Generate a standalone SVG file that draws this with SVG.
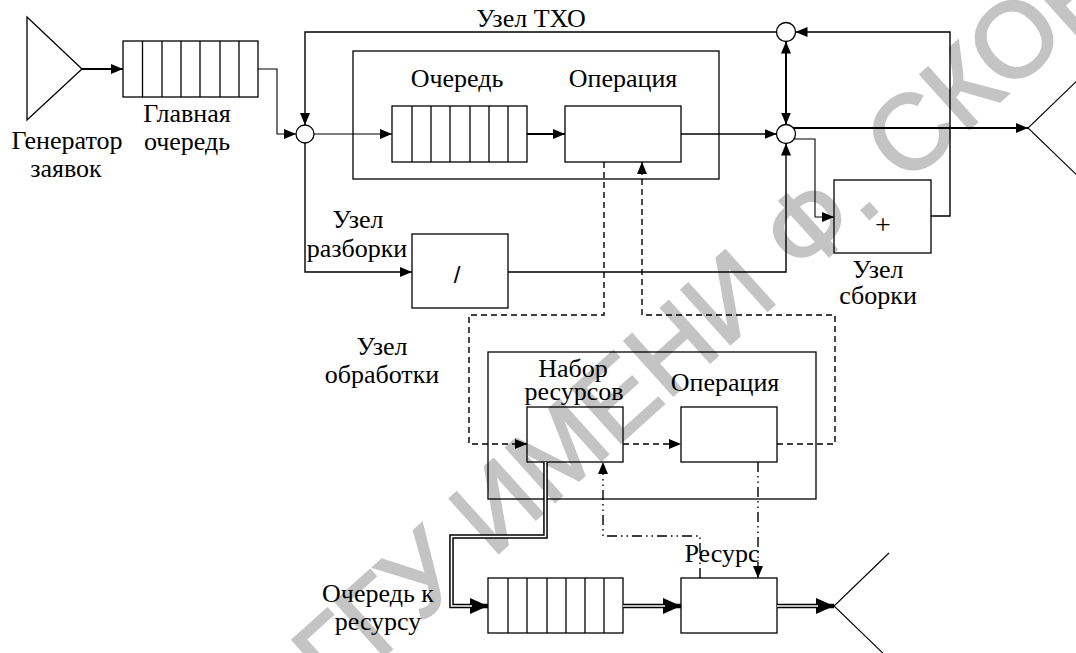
<svg xmlns="http://www.w3.org/2000/svg" width="1076" height="653" viewBox="0 0 1076 653">
<style>
.bx{fill:none;stroke:#000;stroke-width:1.3}
.ln{fill:none;stroke:#000;stroke-width:1.4}
.th{fill:none;stroke:#000;stroke-width:2}
.tn{fill:none;stroke:#000;stroke-width:1.1}
.ds{fill:none;stroke:#000;stroke-width:1.4;stroke-dasharray:6 4}
.dd{fill:none;stroke:#000;stroke-width:1.4;stroke-dasharray:10 4 1.5 4 1.5 4}
.dbo{fill:none;stroke:#000;stroke-width:4.6}
.dbi{fill:none;stroke:#fff;stroke-width:1.6}
.t{font-family:"Liberation Serif","Times New Roman",serif;font-size:26px;fill:#000;text-anchor:middle}
.wm{font-family:"Liberation Sans",Arial,sans-serif;font-size:106px;fill:#c4c4c4;stroke:#c4c4c4;stroke-width:2.5}
</style>
<defs>
<marker id="a" markerUnits="userSpaceOnUse" markerWidth="12" markerHeight="10" refX="12" refY="5" orient="auto"><path d="M0,0 L12,5 L0,10 Z" fill="#000"/></marker>
<marker id="as" markerUnits="userSpaceOnUse" markerWidth="12" markerHeight="10" refX="0" refY="5" orient="auto"><path d="M12,0 L0,5 L12,10 Z" fill="#000"/></marker>
<marker id="ab" markerUnits="userSpaceOnUse" markerWidth="18" markerHeight="16" refX="18" refY="8" orient="auto"><path d="M0,0 L18,8 L0,16 Z" fill="#000"/></marker>
</defs>
<rect width="1076" height="653" fill="#fff"/>
<g id="watermark"><text class="wm" transform="translate(335,700) rotate(-42)">ГГУ ИМЕНИ Ф. СКОРИНЫ</text></g>

<g id="generator"><path class="bx" d="M27,17 L82,69 L27,120 Z"/><text class="t" x="67" y="149">Генератор</text><text class="t" x="66" y="177">заявок</text></g>
<g id="main-queue"><rect class="bx" x="123" y="41" width="135" height="56"/><path class="bx" d="M142.5,41V97M162,41V97M181,41V97M200,41V97M220,41V97M239,41V97"/><text class="t" x="187" y="122">Главная</text><text class="t" x="187" y="150">очередь</text></g>
<g id="txo-node"><rect class="bx" x="353" y="51" width="366" height="128"/><text class="t" x="531" y="27">Узел ТХО</text><text class="t" x="457" y="87">Очередь</text><text class="t" x="623" y="87">Операция</text></g>
<g id="txo-queue"><rect class="bx" x="392" y="106" width="135" height="56"/><path class="bx" d="M412,106V162M431,106V162M450,106V162M470,106V162M489,106V162M508,106V162"/></g>
<g id="txo-operation"><rect class="bx" x="565" y="106" width="116" height="56"/></g>
<g id="join-in"><circle class="bx" cx="305" cy="134" r="9"/></g>
<g id="join-out"><circle class="bx" cx="786" cy="134" r="9.5"/></g>
<g id="join-top"><circle class="bx" cx="786" cy="32" r="9.5"/></g>
<g id="split-node"><rect class="bx" x="412" y="234" width="96" height="74"/><text x="457" y="283" style="font-family:'Liberation Sans',Arial,sans-serif;font-size:24px;text-anchor:middle">/</text><text class="t" x="358" y="228">Узел</text><text class="t" x="357" y="257">разборки</text></g>
<g id="merge-node"><rect class="bx" x="834" y="180" width="97" height="73"/><text class="t" x="883" y="234" style="font-size:28px">+</text><text class="t" x="878" y="278">Узел</text><text class="t" x="878" y="304">сборки</text></g>
<g id="sink-top"><path class="tn" d="M1080,78 L1028,128 L1080,178"/></g>
<g id="processing-node"><rect class="bx" x="488" y="352" width="328" height="147"/><text class="t" x="382" y="355">Узел</text><text class="t" x="382" y="383">обработки</text></g>
<g id="resource-set"><rect class="bx" x="527" y="407" width="96" height="55"/><text class="t" x="573" y="377">Набор</text><text class="t" x="574" y="400">ресурсов</text></g>
<g id="proc-operation"><rect class="bx" x="681" y="407" width="96" height="55"/><text class="t" x="725" y="391">Операция</text></g>
<g id="resource-queue"><rect class="bx" x="488" y="578" width="135" height="55"/><path class="bx" d="M508,578V633M527,578V633M547,578V633M566,578V633M585,578V633M604,578V633"/><text class="t" x="378" y="602">Очередь к</text><text class="t" x="378" y="630">ресурсу</text></g>
<g id="resource"><rect class="bx" x="681" y="578" width="96" height="55"/><text class="t" x="722" y="562">Ресурс</text></g>
<g id="sink-bottom"><path class="tn" d="M889,553 L834,606 L889,659"/></g>

<g id="connectors">
<path class="th" d="M82,69H123" marker-end="url(#a)"/>
<path class="tn" d="M258,69H277V134H296" marker-end="url(#a)"/>
<path class="ln" d="M776.5,32H305V125" marker-end="url(#a)"/>
<path class="tn" d="M314,134H392" marker-end="url(#a)"/>
<path class="th" d="M527,134H565" marker-end="url(#a)"/>
<path class="ln" d="M681,134H776.5" marker-end="url(#a)"/>
<path class="ln" d="M305,143V272H412" marker-end="url(#a)"/>
<path class="ln" d="M508,272H786V143.5" marker-end="url(#a)"/>
<path class="th" d="M786,41.5V124.5" marker-start="url(#as)" marker-end="url(#a)"/>
<path class="th" d="M793,128H1028" marker-end="url(#a)"/>
<path class="tn" d="M794,139H815V217H834" marker-end="url(#a)"/>
<path class="ln" d="M931,216H950V32H795.5" marker-end="url(#a)"/>
<path class="ds" d="M604,162V315H469V444H527" marker-end="url(#a)"/>
<path class="ds" d="M623,444H681" marker-end="url(#a)"/>
<path class="ds" d="M777,444H835V315H642V162" marker-end="url(#a)"/>
<path class="dd" d="M700,578V536H603V462" marker-end="url(#a)"/>
<path class="dd" d="M758,462V578" marker-end="url(#a)"/>
<path class="dbo" d="M545.5,462V536.5H451.5V606H488" marker-end="url(#ab)"/>
<path class="dbi" d="M545.5,462V536.5H451.5V606H472"/>
<path class="dbo" d="M623,606H681" marker-end="url(#ab)"/>
<path class="dbi" d="M623,606H665"/>
<path class="dbo" d="M777,606H834" marker-end="url(#ab)"/>
<path class="dbi" d="M777,606H818"/>
</g>
</svg>
